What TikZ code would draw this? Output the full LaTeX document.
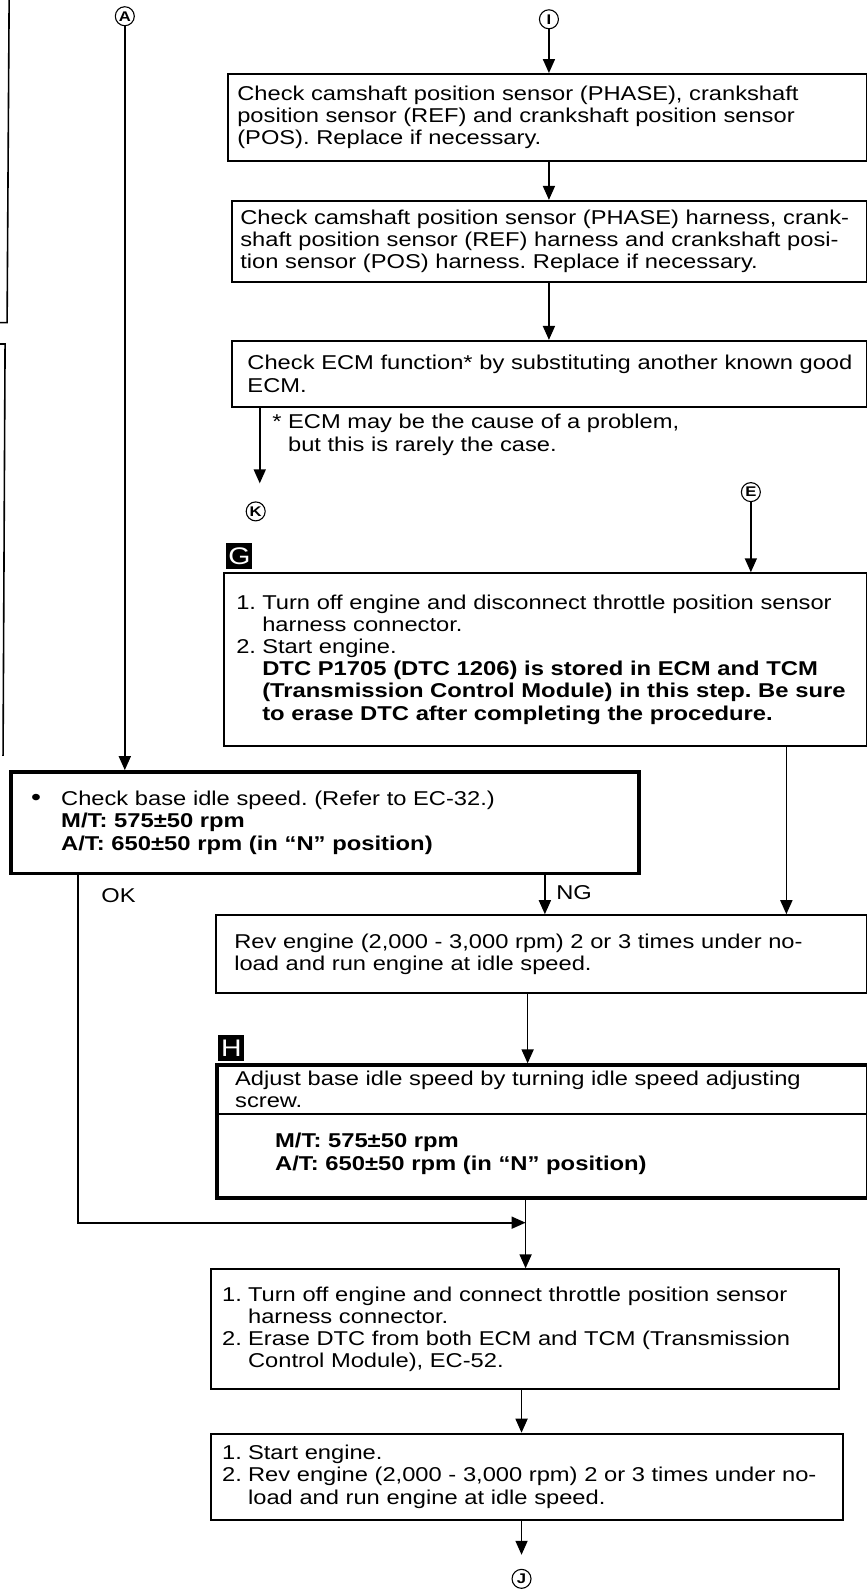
\documentclass[tikz,border=0pt]{standalone}
\usepackage{fontspec}
\setmainfont[FakeStretch=1.185,BoldFeatures={FakeStretch=1.19}]{Liberation Sans}
\usetikzlibrary{arrows.meta}
\newcommand\nm[1]{\makebox[13pt][l]{#1}}
\newcommand\ind{\hspace*{13pt}}
\newcommand\lin[1]{\mbox{#1}}
\newcommand\bx[8]{%
 \pgfmathsetmacro\tw{(#4-2*#6)*0.5076}%
 \pgfmathsetmacro\mh{#5*0.5076}%
 \pgfmathsetmacro\xs{#6*0.5076}%
 \node[box,#7,text width=\tw pt,minimum height=\mh pt,inner xsep=\xs pt] (#1) at (#2,#3) {#8};}
\hfuzz=50pt
\begin{document}
\frenchspacing
\begin{tikzpicture}[x=0.5076pt,y=-0.5076pt,
 font=\fontsize{10}{11.1}\selectfont\frenchspacing,
 box/.style={draw,line width=0.9pt,anchor=north west,align=left,inner ysep=2pt},
 heavy/.style={line width=1.8pt},
 arr/.style={line width=0.85pt,-{Triangle[length=7pt,width=6pt]}},
 ln/.style={line width=0.8pt},
 circ/.style={draw,circle,line width=0.55pt,inner sep=0pt,minimum size=9.5pt,font=\fontsize{7}{7}\selectfont\bfseries},
 tagsq/.style={fill=black,text=white,minimum size=13pt,inner sep=0pt,font=\fontsize{12}{12}\selectfont}]
\useasboundingbox (0,0) rectangle (854,1568);

% fragments of the neighbouring page
\draw[ln] (9,0) -- (7,318) -- (0,318);
\draw[ln] (0,339) -- (5,339) -- (3,745);

% circled letters
\node[circ] (A) at (123,16) {A};
\node[circ] (I) at (541,19) {I};
\node[circ] (K) at (252,504) {K};
\node[circ] (E) at (740,485) {E};
\node[circ] (J) at (514,1556) {J};

% boxes
\bx{b1}{224}{72}{629}{86}{9}{}{\lin{Check camshaft position sensor (PHASE), crankshaft}\\\lin{position sensor (REF) and crankshaft position sensor}\\(POS). Replace if necessary.}
\bx{b2}{228}{197}{625}{80}{8}{}{\lin{Check camshaft position sensor (PHASE) harness, crank-}\\\lin{shaft position sensor (REF) harness and crankshaft posi-}\\\lin{tion sensor (POS) harness. Replace if necessary.}}
\bx{b3}{228}{335}{625}{65}{15}{}{\lin{Check ECM function* by substituting another known good}\\ECM.}
\node[anchor=north west,inner sep=0pt,align=left] (fn) at (268,408) {* ECM may be the cause of a problem,\\\phantom{* }but this is rarely the case.};

\node[tagsq] (Gt) at (236,548) {G};
\bx{G}{220}{564}{633}{170}{12}{}{\lin{\nm{1.}Turn off engine and disconnect throttle position sensor}\\
\ind harness connector.\\
\nm{2.}Start engine.\\
\lin{\ind\textbf{DTC P1705 (DTC 1206) is stored in ECM and TCM}}\\
\lin{\ind\textbf{(Transmission Control Module) in this step. Be sure}}\\
\lin{\ind\textbf{to erase DTC after completing the procedure.}}}

\bx{chk}{9}{759}{619}{100}{20}{heavy}{\makebox[15pt][l]{\large\textbullet}Check base idle speed. (Refer to EC-32.)\\
\hspace*{15pt}\textbf{M/T: 575±50 rpm}\\
\hspace*{15pt}\textbf{A/T: 650±50 rpm (in “N” position)}}

\bx{rev}{212}{901}{641}{77}{18}{}{\lin{Rev engine (2,000 - 3,000 rpm) 2 or 3 times under no-}\\load and run engine at idle speed.}

\node[tagsq] (Ht) at (228,1033) {H};
\bx{H}{212}{1048}{641}{131}{18}{heavy}{\lin{Adjust base idle speed by turning idle speed adjusting}\\screw.\\[9pt]
\hspace*{20pt}\textbf{M/T: 575±50 rpm}\\
\hspace*{20pt}\textbf{A/T: 650±50 rpm (in “N” position)}\\[0pt]\mbox{}}
\coordinate (hd) at (0,1098);
\draw[line width=1pt] (H.west |- hd) -- (H.east |- hd);

\bx{er}{207}{1250}{619}{118}{11}{}{\lin{\nm{1.}Turn off engine and connect throttle position sensor}\\
\ind harness connector.\\
\lin{\nm{2.}Erase DTC from both ECM and TCM (Transmission}\\
\ind Control Module), EC-52.}

\bx{st}{207}{1412}{623}{85}{11}{}{\nm{1.}Start engine.\\
\lin{\nm{2.}Rev engine (2,000 - 3,000 rpm) 2 or 3 times under no-}\\
\ind load and run engine at idle speed.}

% helper x positions
\coordinate (kx) at (256,0);
\coordinate (gx) at (775,0);
\coordinate (ngx) at (537,0);
\coordinate (rx) at (520,0);
\coordinate (okx) at (77,0);
\coordinate (mj) at (518,1205);
\coordinate (ex) at (514,0);

% connectors
\draw[arr] (I.south) -- (I |- b1.north);
\draw[arr] (b1.south -| I) -- (b2.north -| I);
\draw[arr] (b2.south -| I) -- (b3.north -| I);
\draw[arr,shorten >=9pt] (b3.south -| kx) -- (kx |- K.north);
\draw[arr] (E.south) -- (E |- G.north);
\draw[arr] (G.south -| gx) -- (rev.north -| gx);
\draw[arr] (A.south) -- (A |- chk.north);
\draw[arr] (chk.south -| ngx) -- node[right=2pt,pos=0.45] (ng) {NG} (rev.north -| ngx);
\draw[arr] (chk.south -| okx) |- (mj);
\node[anchor=west] (ok) at (93,883) {OK};
\draw[arr] (rev.south -| rx) -- (H.north -| rx);
\draw[arr] (H.south -| mj) -- (er.north -| mj);
\draw[arr] (er.south -| ex) -- (st.north -| ex);
\draw[arr,shorten >=7pt] (st.south -| J) -- (J.north);
\end{tikzpicture}
\end{document}
